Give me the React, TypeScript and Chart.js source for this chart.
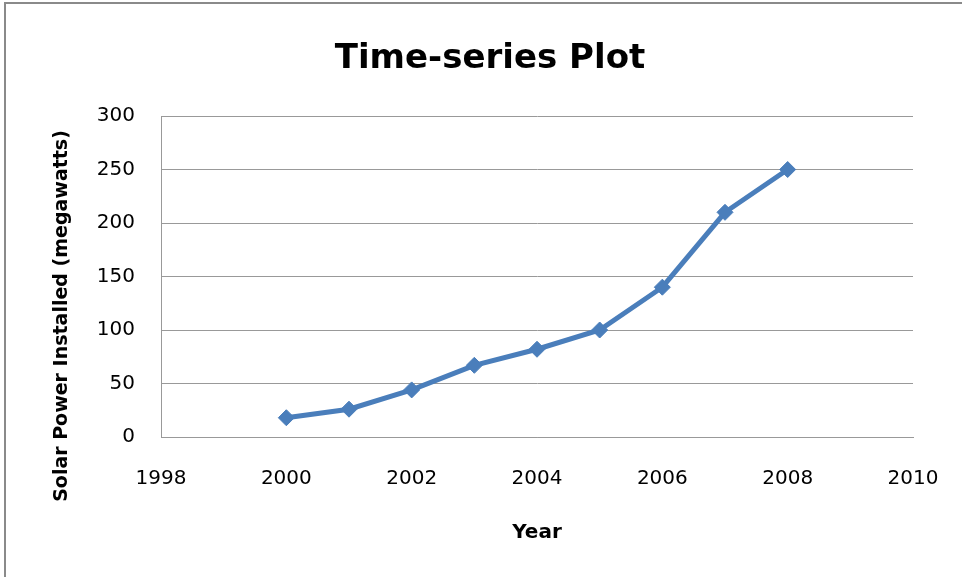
import React, { useEffect, useRef } from "react";
import { Chart, registerables } from "chart.js";

Chart.register(...registerables);

const years = [2000, 2001, 2002, 2003, 2004, 2005, 2006, 2007, 2008];
const solarMW = [18, 26, 44, 67, 82, 100, 140, 210, 250];
const xTicksRange = { min: 1998, max: 2010, step: 2 };
const yTicksRange = { min: 0, max: 300, step: 50 };
const chartTitle = "Time-series Plot";
const xTitle = "Year";
const yTitle = "Solar Power Installed (megawatts)";

const textPlugin = {
  id: "textPlugin",
  beforeDraw(chart: any) {
    const ctx = chart.ctx;
    ctx.save();
    ctx.fillStyle = "#ffffff";
    ctx.fillRect(0, 0, chart.width, chart.height);
    ctx.strokeStyle = "#8a8a8a";
    ctx.lineWidth = 2;
    ctx.beginPath();
    ctx.moveTo(5, chart.height);
    ctx.lineTo(5, 3);
    ctx.lineTo(chart.width, 3);
    ctx.stroke();
    ctx.restore();
  },
  afterDraw(chart: any) {
    const ctx = chart.ctx;
    const area = chart.chartArea;
    ctx.save();
    ctx.fillStyle = "#000000";
    ctx.textAlign = "center";
    ctx.textBaseline = "alphabetic";
    ctx.font = "bold 34px 'DejaVu Sans'";
    ctx.fillText(chartTitle, 490, 68);

    ctx.font = "bold 20px 'DejaVu Sans'";
    ctx.textBaseline = "middle";
    ctx.fillText(xTitle, (area.left + area.right) / 2, 533);

    ctx.translate(62, 316);
    ctx.rotate(-Math.PI / 2);
    ctx.font = "bold 19px 'DejaVu Sans'";
    ctx.fillText(yTitle, 0, 0);
    ctx.restore();
  },
};

export default function App() {
  const ref = useRef<HTMLCanvasElement | null>(null);

  useEffect(() => {
    if (!ref.current) return;
    const chart = new Chart(ref.current, {
      type: "line",
      data: {
        datasets: [
          {
            data: years.map((y, i) => ({ x: y, y: solarMW[i] })),
            borderColor: "#4a7ebb",
            backgroundColor: "#4a7ebb",
            borderWidth: 5,
            pointStyle: "rectRot",
            pointRadius: 8,
            pointBorderWidth: 1,
            pointBackgroundColor: "#4a7ebb",
            pointBorderColor: "#4a7ebb",
            tension: 0,
          },
        ],
      },
      options: {
        animation: false,
        responsive: false,
        layout: { padding: { top: 116, right: 49, left: 0, bottom: 0 } },
        plugins: {
          legend: { display: false },
          tooltip: { enabled: false },
          title: { display: false },
        },
        scales: {
          x: {
            type: "linear",
            min: xTicksRange.min,
            max: xTicksRange.max,
            afterFit: (s: any) => {
              s.height = 140;
              s.paddingLeft = 0;
              s.paddingRight = 0;
            },
            grid: { display: false, drawTicks: false },
            border: { display: true, color: "#999999", width: 1 },
            ticks: {
              stepSize: xTicksRange.step,
              padding: 30,
              color: "#000000",
              font: { family: "'DejaVu Sans'", size: 20 },
              callback: (v: any) => String(v),
            },
          },
          y: {
            type: "linear",
            min: yTicksRange.min,
            max: yTicksRange.max,
            afterFit: (s: any) => {
              s.width = 161;
              s.paddingTop = 0;
              s.paddingBottom = 0;
            },
            grid: { color: "#999999", lineWidth: 1, drawTicks: false },
            border: { display: true, color: "#999999", width: 1 },
            ticks: {
              stepSize: yTicksRange.step,
              padding: 26,
              color: "#000000",
              font: { family: "'DejaVu Sans'", size: 20 },
              callback: (v: any) => String(v),
            },
          },
        },
      },
      plugins: [textPlugin],
    });
    return () => chart.destroy();
  }, []);

  return (
    <div style={{ position: "absolute", left: 0, top: 0, width: 962, height: 577, background: "#fff" }}>
      <canvas ref={ref} width={962} height={577} style={{ display: "block" }} />
    </div>
  );
}
